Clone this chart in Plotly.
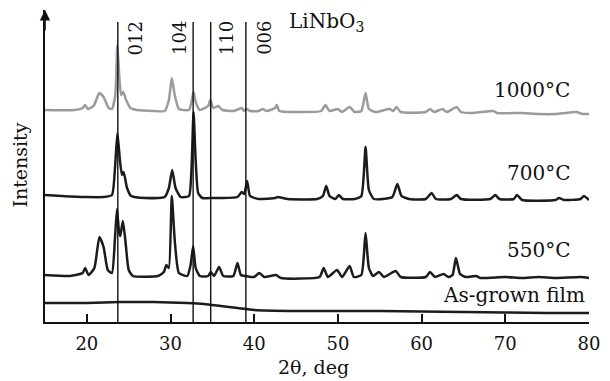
import plotly.graph_objects as go

# 2θ (deg) and intensity (arbitrary units, curves offset as in the figure)
tt_1000 = [15, 18.5, 19.5, 19.8, 20.1, 20.8, 21.5, 22.0, 22.6, 23.0, 23.4, 23.65, 23.9, 24.1, 24.35, 24.7, 25.2, 26, 28,
           29.3, 29.8, 30.15, 30.5, 31.0, 32.2, 32.5, 32.75, 33.0, 33.5, 34.5, 34.75, 35.1, 35.7, 36.2, 37.5, 38.2, 38.5,
           38.8, 39.1, 39.5, 40.5, 41.0, 41.5, 42.5, 42.7, 43.0, 45, 48.0, 48.5, 49.0, 50.0, 50.5, 51.4, 52.0, 52.8, 53.3,
           53.7, 54.5, 56.2, 56.6, 57.0, 57.5, 60.5, 61.0, 61.5, 62.5, 63.0, 64.2, 64.7, 66, 68.6, 69, 72, 74, 76, 78.5,
           79.2, 80]
int_1000 = [212, 212, 214, 217, 213, 216, 229, 225, 214, 213, 227, 277, 242, 227, 230, 222, 214, 212, 211,
            211, 222, 244, 227, 213, 212, 220, 230, 220, 212, 216, 222, 214, 216, 212, 211, 213, 214,
            211, 213, 211, 211, 213, 211, 214, 217, 211, 210, 211, 217, 211, 213, 210, 215, 210, 211, 229,
            213, 210, 213, 211, 215, 210, 210, 213, 210, 213, 210, 215, 210, 209, 211, 209, 209, 208, 208, 210,
            208, 208]

tt_700 = [15, 17, 20, 22, 23.0, 23.35, 23.65, 23.95, 24.2, 24.4, 24.8, 25.3, 27, 29.3, 29.8, 30.2, 30.6, 31.2, 32.2,
          32.5, 32.75, 33.0, 33.3, 33.8, 35, 36, 38.0, 38.5, 38.8, 39.15, 39.5, 40.5, 41, 42.5, 42.8, 44, 47.5, 48.2,
          48.6, 49.0, 49.7, 50.1, 50.6, 52.0, 52.8, 53.3, 53.7, 54.3, 56.5, 57.1, 57.6, 58.5, 60.5, 61.2, 61.7, 63.5,
          64.2, 64.7, 68.2, 68.8, 69.3, 71.0, 71.4, 72.0, 76.0, 76.4, 77, 79.0, 79.4, 80]
int_700 = [127, 126, 125, 125, 127, 152, 189, 162, 147, 150, 134, 126, 124, 125, 134, 152, 134, 125, 126,
           152, 210, 162, 129, 124, 124, 124, 125, 130, 128, 141, 126, 123, 123, 124, 125, 123, 123, 126,
           136, 126, 123, 127, 123, 123, 126, 175, 132, 123, 125, 138, 126, 123, 123, 129, 123, 123,
           127, 123, 123, 127, 123, 123, 127, 122, 122, 124, 122, 123, 126, 122]

tt_550 = [15, 18, 19.5, 19.8, 20.2, 20.9, 21.5, 22.0, 22.5, 23.0, 23.35, 23.6, 23.85, 24.0, 24.3, 24.6, 25.0, 25.5,
          28.5, 29.2, 29.5, 29.8, 30.15, 30.5, 31.0, 32.0, 32.4, 32.7, 33.0, 33.5, 34.5, 34.8, 35.2, 35.8, 36.3, 37.5,
          38.0, 38.4, 39.0, 40.0, 40.6, 41.2, 42.6, 43.2, 47.8, 48.3, 48.8, 49.9, 50.5, 51.4, 51.9, 52.8, 53.3, 53.7,
          54.2, 54.9, 55.5, 56.9, 57.5, 60.5, 61.0, 61.6, 62.6, 63.2, 63.7, 64.1, 64.6, 65.3, 66.5, 67, 70, 72, 74,
          76, 79, 80]
int_550 = [47, 46, 49, 54, 47, 54, 85, 75, 52, 49, 82, 113, 90, 86, 101, 82, 52, 46,
           46, 50, 57, 54, 126, 82, 49, 46, 57, 76, 54, 46, 46, 50, 46, 55, 46, 46,
           59, 47, 46, 45, 49, 45, 47, 44, 45, 54, 45, 52, 45, 56, 45, 47, 89, 54,
           46, 50, 45, 51, 45, 45, 50, 45, 48, 45, 47, 64, 48, 45, 46, 44, 45, 44, 45,
           44, 45, 44]

tt_asgrown = [15, 20, 24, 28, 32, 34, 36, 38, 40, 45, 55, 65, 75, 80]
int_asgrown = [19, 19, 20, 20, 19, 18, 16, 14, 12, 11, 11, 10, 9, 9]

# LiNbO3 reference reflections
ref_pos = [23.7, 32.7, 34.8, 39.0]
ref_hkl = ["012", "104", "110", "006"]
ref_label_x = [25.8, 31.0, 36.65, 41.15]

series = [
    ("1000°C", tt_1000, int_1000, "#9b9b9b", 232),
    ("700°C", tt_700, int_700, "#1c1c1c", 149),
    ("550°C", tt_550, int_550, "#1c1c1c", 72),
    ("As-grown film", tt_asgrown, int_asgrown, "#1c1c1c", 27),
]

FONT = "DejaVu Serif"
fig = go.Figure()
for name, x, y, col, _ in series:
    fig.add_trace(go.Scatter(x=x, y=y, mode="lines", name=name,
                             line=dict(color=col, width=2.5, shape="spline", smoothing=0.5),
                             showlegend=False))

for p in ref_pos:
    fig.add_shape(type="line", x0=p, x1=p, y0=0, y1=300, xref="x", yref="y",
                  line=dict(color="#111", width=1.4))

for lbl, lx in zip(ref_hkl, ref_label_x):
    fig.add_annotation(x=lx, y=284, text=lbl, showarrow=False, textangle=-90,
                       font=dict(family=FONT, size=18, color="#111"))

fig.add_annotation(x=48.6, y=300, text="LiNbO<sub>3</sub>", showarrow=False,
                   font=dict(family=FONT, size=20, color="#111"))

for name, _, _, _, ly in series:
    xr = 79.8 if name == "As-grown film" else 78.0
    fig.add_annotation(x=xr, y=ly, text=name, showarrow=False, xanchor="right",
                       font=dict(family=FONT, size=20, color="#111"))

# axis arrow
fig.add_annotation(x=15, y=312, ax=15, ay=290, xref="x", yref="y", axref="x", ayref="y",
                   showarrow=True, arrowhead=2, arrowsize=1.3, arrowwidth=1.6, arrowcolor="#111", text="")

fig.add_annotation(x=-0.045, y=0.503, xref="paper", yref="paper", text="Intensity", textangle=-90,
                   xanchor="center", yanchor="middle",
                   showarrow=False, font=dict(family=FONT, size=19, color="#111"))
fig.add_annotation(x=0.493, y=-0.145, xref="paper", yref="paper", text="2θ, deg",
                   xanchor="center", yanchor="middle",
                   showarrow=False, font=dict(family=FONT, size=19, color="#111"))

fig.update_layout(
    width=610, height=381,
    margin=dict(l=45, r=15, t=10, b=59),
    paper_bgcolor="white", plot_bgcolor="white",
    xaxis=dict(range=[15, 80], tickvals=[20, 30, 40, 50, 60, 70, 80], ticks="inside", ticklen=8,
               tickwidth=1.5, tickcolor="#111", showline=True, linecolor="#111", linewidth=1.6,
               ticklabelstandoff=5,
               showgrid=False, zeroline=False, tickfont=dict(family=FONT, size=18, color="#111")),
    yaxis=dict(range=[0, 312], showticklabels=False, ticks="", showline=True, linecolor="#111",
               linewidth=1.6, showgrid=False, zeroline=False),
)

fig.write_html("out.html")
